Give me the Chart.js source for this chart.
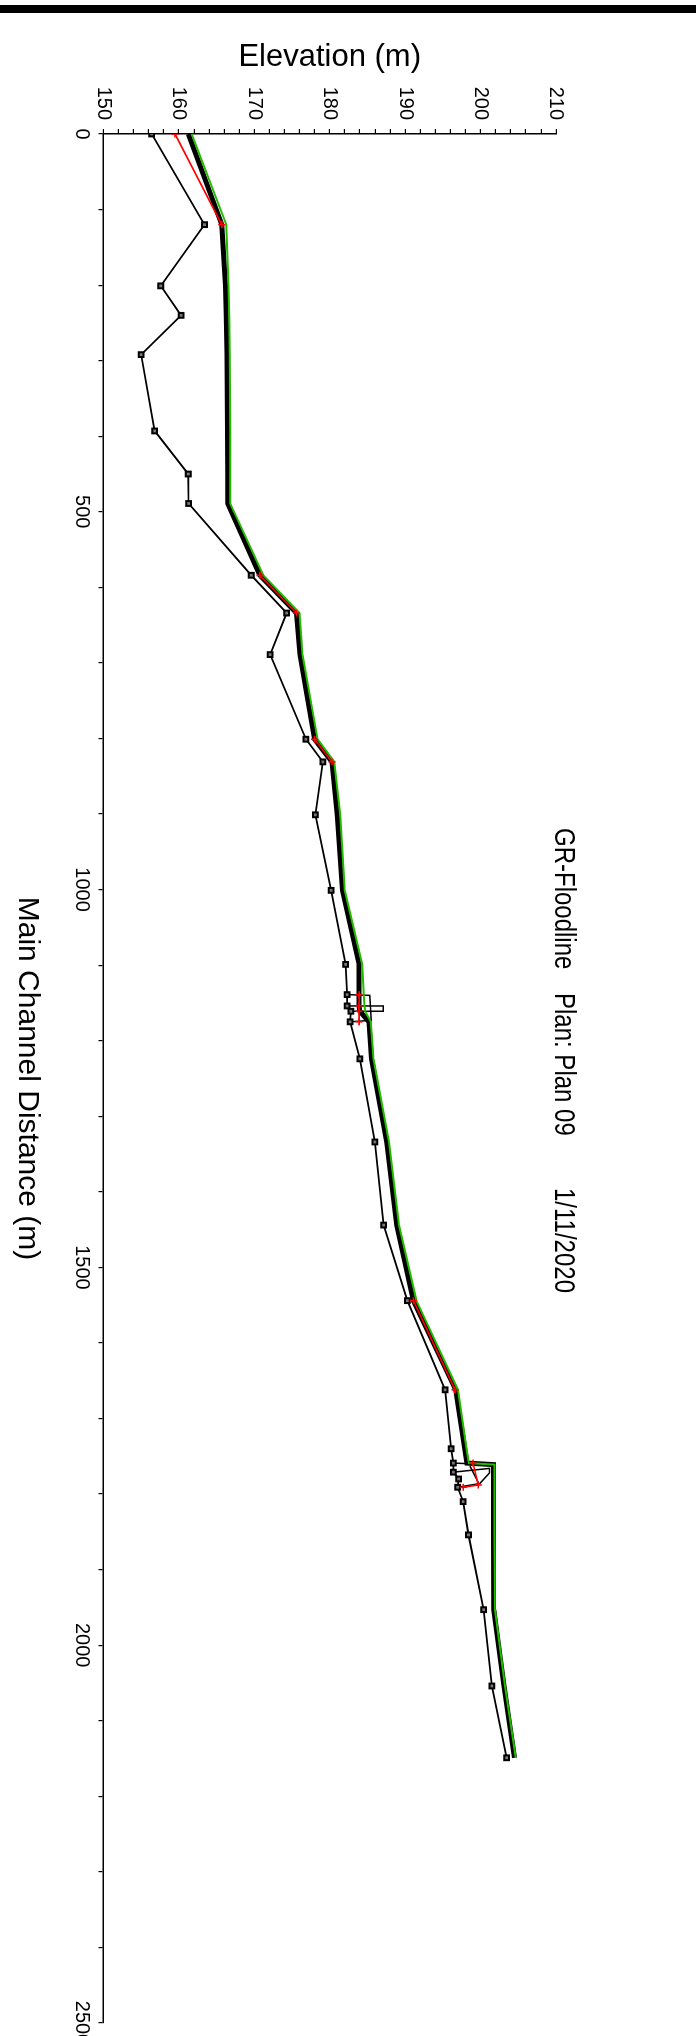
<!DOCTYPE html>
<html>
<head>
<meta charset="utf-8">
<script src="https://cdn.jsdelivr.net/npm/chart.js@4"></script>
<style>
  html, body { margin: 0; padding: 0; background: #fff; overflow: hidden; width: 696px; height: 2036px; }
  #bar { position: absolute; left: 0; top: 5px; width: 696px; height: 8px; background: #000; }
  /* chart is drawn the usual way round, then turned 90deg clockwise */
  #wrap { position: absolute; left: 0; top: 0; width: 2036px; height: 696px;
          transform-origin: 0 0; transform: translate(696px, 0) rotate(90deg); }
</style>
</head>
<body>
<div id="bar"></div>
<div id="wrap"><canvas id="profileChart" width="2036" height="696"></canvas></div>
<script>
// river stations (m) and ground profile
const stations = [0, 120, 201, 240, 292, 393, 450, 489, 584, 634, 689, 801, 831, 901, 1001, 1099, 1139, 1154, 1161, 1175,
                  1224, 1334, 1444, 1544, 1662, 1740, 1759, 1771, 1780, 1791, 1810, 1854, 1953, 2054, 2149];
const groundElev = [156.4, 163.4, 157.6, 160.3, 155.0, 156.8, 161.25, 161.3, 169.6, 174.3, 172.1, 176.85, 179.1, 178.1, 180.2,
                    182.1, 182.3, 182.3, 182.8, 182.7, 184.0, 186.0, 187.15, 190.3, 195.3, 196.1, 196.4, 196.4, 197.1, 196.95,
                    197.7, 198.4, 200.4, 201.5, 203.45];

// water surface (thick black) and energy line (green)
const wsDist = [0, 120, 201, 240, 292, 393, 450, 489, 584, 634, 689, 801, 831, 901, 1001, 1099, 1139, 1154, 1161, 1175,
                1224, 1334, 1444, 1544, 1662, 1740, 1759, 1761, 1771, 1780, 1791, 1810, 1854, 1953, 2054, 2149];
const wsElev = [161.25, 165.7, 166.2, 166.3, 166.4, 166.45, 166.5, 166.5, 170.75, 175.6, 176.05, 178.0, 180.3, 181.0, 181.7,
                183.9, 183.9, 183.9, 184.0, 185.2, 185.55, 187.55, 188.9, 191.1, 196.7, 197.9, 198.2, 201.7, 201.7, 201.7,
                201.7, 201.7, 201.7, 201.75, 203.1, 204.5];
const egElev = [161.7, 166.3, 166.6, 166.7, 166.75, 166.8, 166.8, 166.8, 171.2, 176.0, 176.4, 178.4, 180.6, 181.4, 182.0,
                184.3, 184.5, 184.6, 184.7, 185.45, 185.8, 187.85, 189.2, 191.5, 197.0, 198.15, 198.45, 201.85, 201.85, 201.85,
                201.85, 201.85, 201.85, 201.9, 203.25, 204.65];

// critical depth (red), gaps where not computed
const critDist = [0, 120, 201, 584, 634, 689, 801, 831, 901, 1139, 1154, 1161, 1175, 1224, 1544, 1662, 1740, 1759, 1788, 1791];
const critElev = [159.5, 165.7, null, 170.75, 175.6, null, 178.0, 180.3, null, 183.9, 183.9, 183.9, 183.9, null, 191.1, 196.6,
                  null, 199.0, 199.7, 197.7];

// structures
const bridgeDeckDist = [1139, 1140, 1173, 1175];
const bridgeDeckElev = [182.3, 185.3, 185.5, 182.7];
const bridgeRoadDist = [1154, 1154, 1161, 1161];
const bridgeRoadElev = [182.3, 187.1, 187.1, 182.8];
const culvertTopDist = [1759, 1761];
const culvertTopElev = [196.4, 201.7];
const culvertFaceDist = [1771, 1766, 1772, 1786, 1791];
const culvertFaceElev = [196.4, 201.2, 201.2, 199.9, 196.95];
const culvertMidDist = [1763, 1785];
const culvertMidElev = [198.6, 199.7];

const titleParts = ['GR-Floodline', 'Plan: Plan 09', '1/11/2020'];

function pts(xs, ys) {
    return xs.map((x, i) => ({ x: x, y: ys[i] }));
}

function structure(xs, ys) {
    return { data: pts(xs, ys), borderColor: '#000', borderWidth: 1.5, pointRadius: 0 };
}

const titlePlugin = {
    id: 'planTitle',
    afterDraw(chart) {
        const ctx = chart.ctx;
        const area = chart.chartArea;
        const starts = [694, 859, 1054];
        ctx.save();
        ctx.font = '24px "Liberation Sans", Arial, sans-serif';
        ctx.fillStyle = '#000';
        ctx.textBaseline = 'alphabetic';
        ctx.translate(area.left, area.top + 1);
        ctx.scale(1, 1.25);
        titleParts.forEach((t, i) => ctx.fillText(t, starts[i], 0));
        ctx.restore();
    }
};

Chart.defaults.font.family = '"Liberation Sans", Arial, sans-serif';
Chart.defaults.color = '#000';

const ctx = document.getElementById('profileChart').getContext('2d');
new Chart(ctx, {
    type: 'line',
    data: {
        datasets: [
            { data: pts(critDist, critElev), borderColor: '#ff0000', borderWidth: 1.6, spanGaps: false,
              pointStyle: 'cross', pointRadius: 3.5, pointBorderWidth: 1.6, pointBorderColor: '#ff0000' },
            { data: pts(wsDist, egElev), borderColor: '#22bb00', borderWidth: 2, pointRadius: 0 },
            { data: pts(wsDist, wsElev), borderColor: '#000', borderWidth: 5, pointRadius: 0 },
            { data: pts(stations, groundElev), borderColor: '#000', borderWidth: 1.8,
              pointStyle: 'rect', pointRadius: 3.4, pointBorderWidth: 2, pointBorderColor: '#000', pointBackgroundColor: '#777' },
            structure(bridgeDeckDist, bridgeDeckElev),
            structure(bridgeRoadDist, bridgeRoadElev),
            structure(culvertTopDist, culvertTopElev),
            structure(culvertFaceDist, culvertFaceElev),
            structure(culvertMidDist, culvertMidElev)
        ]
    },
    options: {
        responsive: false,
        animation: false,
        events: [],
        layout: { padding: { top: 140, right: 13, bottom: 0, left: 0 } },
        plugins: { legend: { display: false }, tooltip: { enabled: false } },
        scales: {
            x: {
                type: 'linear',
                position: 'bottom',
                min: 0,
                max: 2500,
                afterFit: function(s) { s.height = 103.4; s.paddingLeft = 0; s.paddingRight = 0; },
                ticks: {
                    stepSize: 100, autoSkip: false, maxRotation: 0, minRotation: 0, padding: 5,
                    font: { size: 20 },
                    callback: function(value) { return value % 500 === 0 ? String(value) : ''; }
                },
                grid: { drawOnChartArea: false, drawTicks: true, tickLength: 5, color: '#000', lineWidth: 1.2 },
                border: { display: true, color: '#000', width: 1.5 },
                title: { display: true, text: 'Main Channel Distance (m)', font: { size: 30 }, padding: { top: 0, bottom: 9 } }
            },
            y: {
                type: 'linear',
                position: 'left',
                min: 150,
                max: 210,
                afterFit: function(s) { s.width = 134; s.paddingTop = 0; s.paddingBottom = 0; },
                ticks: {
                    stepSize: 2, autoSkip: false, padding: 9,
                    font: { size: 20 },
                    callback: function(value) { return value % 10 === 0 ? String(value) : ''; }
                },
                grid: { drawOnChartArea: false, drawTicks: true, tickLength: 5, color: '#000', lineWidth: 1.2 },
                border: { display: true, color: '#000', width: 1.5 },
                title: { display: true, text: 'Elevation (m)', font: { size: 31 }, padding: { top: 39, bottom: 0 } }
            }
        }
    },
    plugins: [titlePlugin]
});
</script>
</body>
</html>
